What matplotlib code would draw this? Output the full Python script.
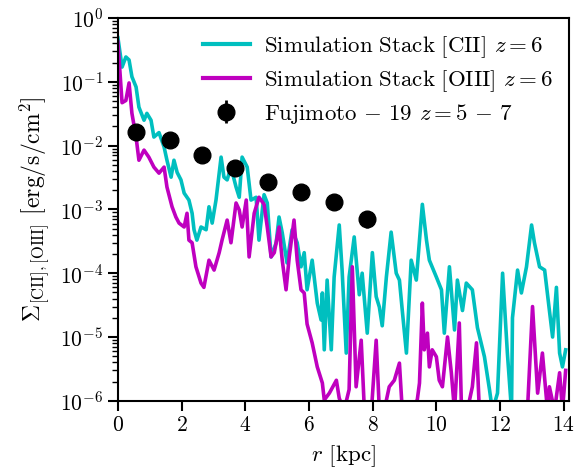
import numpy as np
import matplotlib.pyplot as plt

plt.rcParams['font.family'] = 'serif'
plt.rcParams['font.serif'] = ['cmr10']
plt.rcParams['mathtext.fontset'] = 'cm'
plt.rcParams['axes.formatter.use_mathtext'] = True
plt.rcParams['axes.unicode_minus'] = False

# stacked [CII] surface brightness profile
r_cii = [0.00, 0.13, 0.25, 0.35, 0.44, 0.57, 0.66, 0.82, 0.91, 1.04, 1.13, 1.29, 1.45, 1.54,
         1.67, 1.76, 1.86, 1.98, 2.08, 2.23, 2.33, 2.39, 2.48, 2.61, 2.77, 2.86, 2.96, 3.08,
         3.24, 3.33, 3.43, 3.55, 3.71, 3.81, 3.90, 4.06, 4.18, 4.34, 4.43, 4.59, 4.69, 4.81,
         4.97, 5.06, 5.16, 5.31, 5.47, 5.63, 5.75, 5.85, 5.94, 6.10, 6.26, 6.38, 6.42, 6.48,
         6.57, 6.70, 6.79, 6.95, 7.04, 7.17, 7.26, 7.42, 7.58, 7.67, 7.83, 7.99, 8.11, 8.21,
         8.30, 8.43, 8.58, 8.74, 8.84, 8.93, 9.06, 9.21, 9.37, 9.56, 9.69, 9.78, 10.00, 10.16,
         10.25, 10.41, 10.57, 10.66, 10.82, 10.94, 11.13, 11.29, 11.51, 11.67, 11.76, 11.92,
         12.08, 12.23, 12.36, 12.39, 12.55, 12.67, 12.83, 12.99, 13.08, 13.24, 13.40, 13.55,
         13.65, 13.77, 13.87, 13.96, 14.06]
sb_cii = [0.49, 0.17, 0.245, 0.22, 0.12, 0.083, 0.040, 0.025, 0.032, 0.025, 0.0136, 0.016,
          0.0095, 0.0059, 0.0032, 0.0059, 0.0038, 0.0029, 0.0018, 0.0014, 8.7e-4, 4.8e-4,
          3.3e-4, 5.3e-4, 4.8e-4, 1.1e-3, 6.1e-4, 1.4e-3, 6.6e-3, 3.2e-3, 2.9e-3, 4.6e-3,
          2.24e-3, 1.55e-3, 6.6e-3, 4.6e-3, 1.4e-3, 1.55e-3, 3.3e-4, 1.7e-3, 1.26e-3, 1.8e-4,
          3.0e-4, 7.6e-4, 4.3e-4, 1.45e-4, 4.8e-4, 3.0e-4, 1.26e-4, 2.1e-4, 5.5e-5, 1.6e-4,
          3.4e-5, 1.85e-5, 4.9e-5, 6.3e-6, 7.8e-5, 6.3e-6, 8.7e-5, 5.7e-4, 1.12e-4, 5.6e-6,
          8.7e-5, 3.7e-4, 4.6e-5, 1.0e-4, 1.15e-5, 2.1e-4, 4.3e-5, 2.95e-5, 1.5e-5, 8.7e-5,
          4.4e-4, 1.0e-4, 7.8e-5, 2.6e-5, 5.6e-6, 1.6e-4, 7.8e-5, 1.2e-3, 3.3e-4, 1.6e-4,
          8.7e-5, 5.5e-5, 1.15e-5, 1.26e-4, 1.29e-5, 7.8e-5, 2.6e-5, 7.0e-5, 5.5e-5, 1.4e-5,
          4.9e-6, 1.48e-6, 7e-7, 1.32e-6, 1.0e-4, 5.6e-6, 7e-7, 2.0e-5, 1.12e-4, 4.9e-5,
          1.26e-4, 5.7e-4, 3.0e-4, 1.26e-4, 1.12e-4, 2.6e-5, 1.0e-5, 6.0e-5, 5.6e-6, 3.4e-6,
          6.3e-6]

# stacked [OIII] surface brightness profile
r_oiii = [0.00, 0.13, 0.25, 0.35, 0.44, 0.57, 0.66, 0.82, 0.97, 1.13, 1.29, 1.45, 1.54, 1.70,
          1.82, 1.92, 2.08, 2.17, 2.23, 2.33, 2.45, 2.61, 2.70, 2.86, 3.02, 3.18, 3.27, 3.43,
          3.55, 3.71, 3.81, 3.90, 4.03, 4.12, 4.28, 4.43, 4.59, 4.69, 4.81, 4.91, 5.06, 5.16,
          5.28, 5.38, 5.53, 5.63, 5.75, 5.85, 5.94, 6.10, 6.26, 6.42, 6.48, 6.64, 6.86, 6.95,
          7.10, 7.26, 7.36, 7.48, 7.64, 7.74, 7.96, 8.11, 8.21, 8.36, 8.52, 8.68, 8.84, 8.93,
          9.15, 9.40, 9.47, 9.56, 9.62, 9.72, 9.78, 9.87, 10.00, 10.09, 10.19, 10.35, 10.47,
          10.57, 10.72, 10.79, 10.97, 11.13, 11.26, 11.35, 11.67, 11.98, 12.30, 12.61, 12.86,
          13.02, 13.18, 13.33, 13.49, 13.55, 13.71, 13.87, 13.96, 14.06]
sb_oiii = [0.42, 0.047, 0.051, 0.096, 0.032, 0.0136, 0.0059, 0.0085, 0.0066, 0.0046, 0.0037,
           0.0046, 0.00224, 0.0011, 7.6e-4, 6.1e-4, 5.3e-4, 8.7e-4, 3.3e-4, 3.0e-4, 1.26e-4,
           7.0e-5, 6.0e-5, 1.6e-4, 1.12e-4, 2.1e-4, 3.3e-4, 6.8e-4, 3.0e-4, 1.26e-3, 9.8e-4,
           5.3e-4, 1.4e-3, 1.8e-4, 8.7e-4, 1.55e-3, 1.2e-3, 5.3e-4, 1.8e-4, 2.1e-4, 5.3e-4,
           1.6e-4, 5.5e-5, 1.8e-4, 6.8e-4, 1.6e-4, 5.5e-5, 4.9e-5, 1.6e-5, 8.1e-6, 3.4e-6,
           1.9e-6, 1.03e-6, 1.32e-6, 2.1e-6, 1.1e-6, 7e-7, 1.5e-6, 1.26e-4, 1.66e-6, 8.9e-6,
           7e-7, 7e-7, 8.9e-6, 7e-7, 7e-7, 1.66e-6, 2.1e-6, 3.9e-6, 7e-7, 7e-7, 1.03e-6,
           1.9e-6, 3.4e-5, 6.3e-6, 1.15e-5, 3.4e-6, 6.3e-6, 4.9e-6, 2.1e-6, 1.66e-6, 1.0e-5,
           2.75e-6, 7e-7, 1.66e-5, 7e-7, 7e-7, 1.66e-6, 8.1e-6, 7e-7, 7e-7, 7e-7, 7e-7, 7e-7,
           7e-7, 3.0e-5, 1.32e-6, 5.6e-6, 7e-7, 1.66e-6, 7e-7, 2.75e-6, 7e-7, 3.0e-6]

# Fujimoto et al. 2019 stacked [CII] halo
r_fuji = [0.57, 1.62, 2.63, 3.68, 4.70, 5.74, 6.78, 7.83]
sb_fuji = [0.0166, 0.0124, 0.0070, 0.0045, 0.0027, 0.0019, 0.0013, 0.00072]
err_fuji = [0.002, 0.0015, 0.0008, 0.0005, 0.0003, 0.0002, 0.0003, 0.00021]

fig = plt.figure(figsize=(5.78, 4.71), dpi=100)
ax = fig.add_axes([0.204, 0.149, 0.7796, 0.8128])

ax.plot(r_cii, sb_cii, color='c', lw=2.6, label=r'$\rm Simulation\ Stack\ [CII]$ $z=6$')
ax.plot(r_oiii, sb_oiii, color='m', lw=2.6, label=r'$\rm Simulation\ Stack\ [OIII]$ $z=6$')
ax.errorbar(r_fuji, sb_fuji, yerr=err_fuji, fmt='o', color='k', ms=12, elinewidth=2,
            capsize=0, label=r'$\rm Fujimoto\,-\,19$ $z=5\,-\,7$', zorder=5)

ax.set_yscale('log')
ax.set_xlim(0, 14.15)
ax.set_ylim(1e-6, 1)
ax.set_xticks([0, 2, 4, 6, 8, 10, 12, 14])
ax.set_xlabel(r'$r$ [kpc]', fontsize=16.5, labelpad=6)
ax.set_ylabel(r'$\Sigma_{\rm [CII],[OIII]}$ [erg/s/cm$^2$]', fontsize=17, labelpad=6)
ax.tick_params(which='major', labelsize=15.5, length=7, width=1.5)
ax.tick_params(which='minor', length=4, width=1)
for s in ax.spines.values():
    s.set_linewidth(1.5)

leg = ax.legend(loc='upper right', frameon=False, fontsize=16.5, handlelength=2.05,
                handletextpad=0.6, borderaxespad=0.3, labelspacing=0.35)
for h in leg.legend_handles[:2]:
    h.set_linewidth(3)

fig.savefig('out.png', dpi=100)
